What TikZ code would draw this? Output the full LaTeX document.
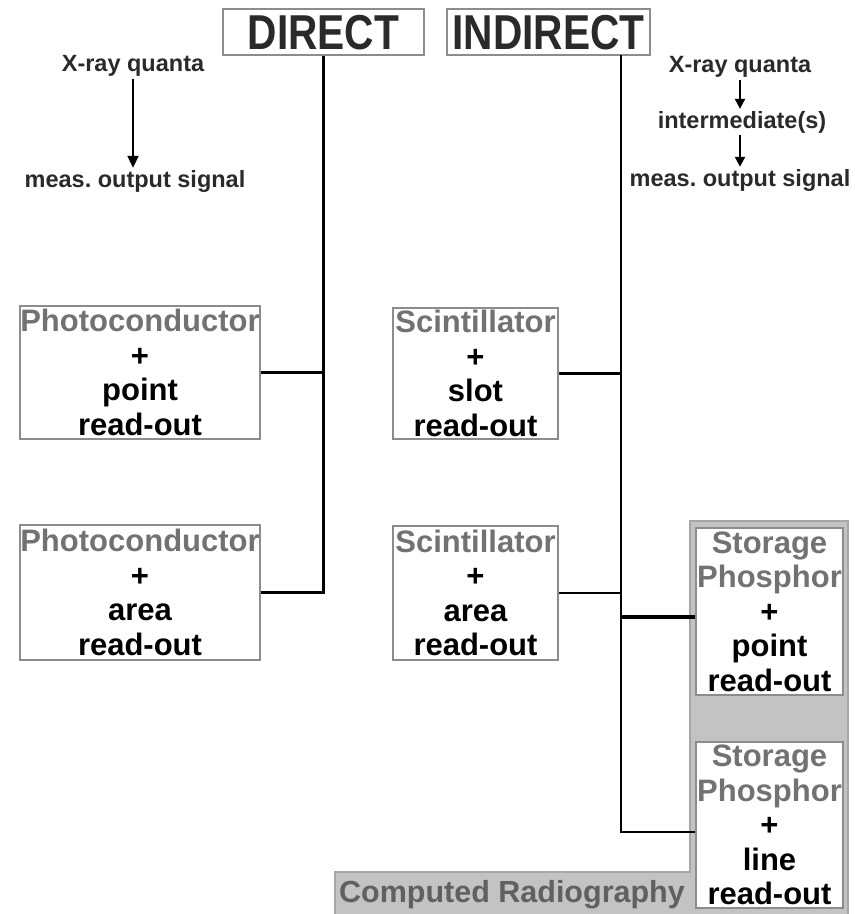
\documentclass[tikz,border=0pt]{standalone}
\usepackage{fontspec}
\setmainfont{Liberation Sans}
\newfontfamily\headfont[FakeStretch=0.83]{Liberation Sans}
\usetikzlibrary{arrows.meta}
\definecolor{frameG}{HTML}{8C8C8C}
\definecolor{matG}{HTML}{727272}
\definecolor{crFill}{HTML}{C3C3C3}
\definecolor{crLine}{HTML}{A6A6A6}
\definecolor{crText}{HTML}{606060}
\definecolor{inkD}{HTML}{2A2A2A}

\newcommand{\mat}[1]{\textcolor{matG}{#1}}
\frenchspacing

\begin{document}
\begin{tikzpicture}[x=1pt,y=-1pt,
  head/.style={draw=frameG,line width=1.3pt,inner sep=0pt,minimum height=46pt,
    text height=35pt,text depth=0pt,text=inkD,font=\headfont\bfseries\fontsize{49}{49}\selectfont},
  chain/.style={inner sep=2pt,text=inkD,font=\bfseries\fontsize{23.5}{26}\selectfont},
  unit/.style={draw=frameG,line width=1.6pt,fill=white,inner sep=0pt,align=center,
    font=\bfseries\fontsize{31}{34.5}\selectfont},
  bus/.style={line width=2.4pt},
  flow/.style={line width=2pt,-{Triangle[length=12pt,width=11pt]}}]
  \useasboundingbox (0,0) rectangle (855,914);

  % computed radiography background
  \fill[crFill,draw=crLine,line width=1.2pt] (335,920) |- (690,872) |- (848,521) -- (848,920) -- cycle;
  \node[inner sep=0pt,text=crText,font=\bfseries\fontsize{30.5}{32}\selectfont] (cr) at (512,895) {Computed Radiography};

  % headings
  \node[head,minimum width=201pt] (direct) at (323.5,32) {DIRECT};
  \node[head,minimum width=203pt] (indirect) at (548.5,32) {INDIRECT};
  \coordinate (ibus) at (621,55);

  % conversion chains
  \node[chain] (xq1) at (133,66) {X-ray quanta};
  \node[chain] (out1) at (135,181) {meas. output signal};
  \draw[flow] (xq1.south) -- (xq1.south |- out1.north);

  \node[chain] (xq2) at (740,67) {X-ray quanta};
  \node[chain] (mid2) at (742,122) {intermediate(s)};
  \node[chain] (out2) at (740,180) {meas. output signal};
  \draw[flow,-{Triangle[length=10pt,width=10pt]}] (xq2.south) -- (xq2.south |- mid2.north);
  \draw[flow,-{Triangle[length=10pt,width=10pt]}] (mid2.south -| xq2.south) -- (xq2.south |- out2.north);

  % detector types
  \node[unit,minimum width=240pt,minimum height=133pt] (pc1) at (140,372.5)
    {\mat{Photoconductor}\\+\\point\\read-out};
  \node[unit,minimum width=240pt,minimum height=135pt] (pc2) at (140,592.5)
    {\mat{Photoconductor}\\+\\area\\read-out};
  \node[unit,minimum width=165pt,minimum height=131pt] (sc1) at (475.5,373.5)
    {\mat{Scintillator}\\+\\slot\\read-out};
  \node[unit,minimum width=165pt,minimum height=134pt] (sc2) at (475.5,593)
    {\mat{Scintillator}\\+\\area\\read-out};
  \node[unit,minimum width=147pt,minimum height=167pt] (sp1) at (769.5,611.5)
    {\mat{Storage}\\\mat{Phosphor}\\+\\point\\read-out};
  \node[unit,minimum width=147pt,minimum height=166pt] (sp2) at (769.5,825)
    {\mat{Storage}\\\mat{Phosphor}\\+\\line\\read-out};

  % tree
  \draw[bus,line width=2.8pt] (direct.south) |- (pc2.east);
  \draw[bus] (pc1.east) -- (pc1.east -| direct.south);
  \coordinate (sp1in) at ([yshift=-5.5pt]sp1.west);
  \coordinate (sp2in) at ([yshift=-7pt]sp2.west);
  \draw[bus] (ibus) |- (sp2in);
  \draw[bus] (sc1.east) -- (sc1.east -| ibus);
  \draw[bus] (sc2.east) -- (sc2.east -| ibus);
  \draw[bus,line width=3.6pt] (sp1in) -- (sp1in -| ibus);
\end{tikzpicture}
\end{document}
